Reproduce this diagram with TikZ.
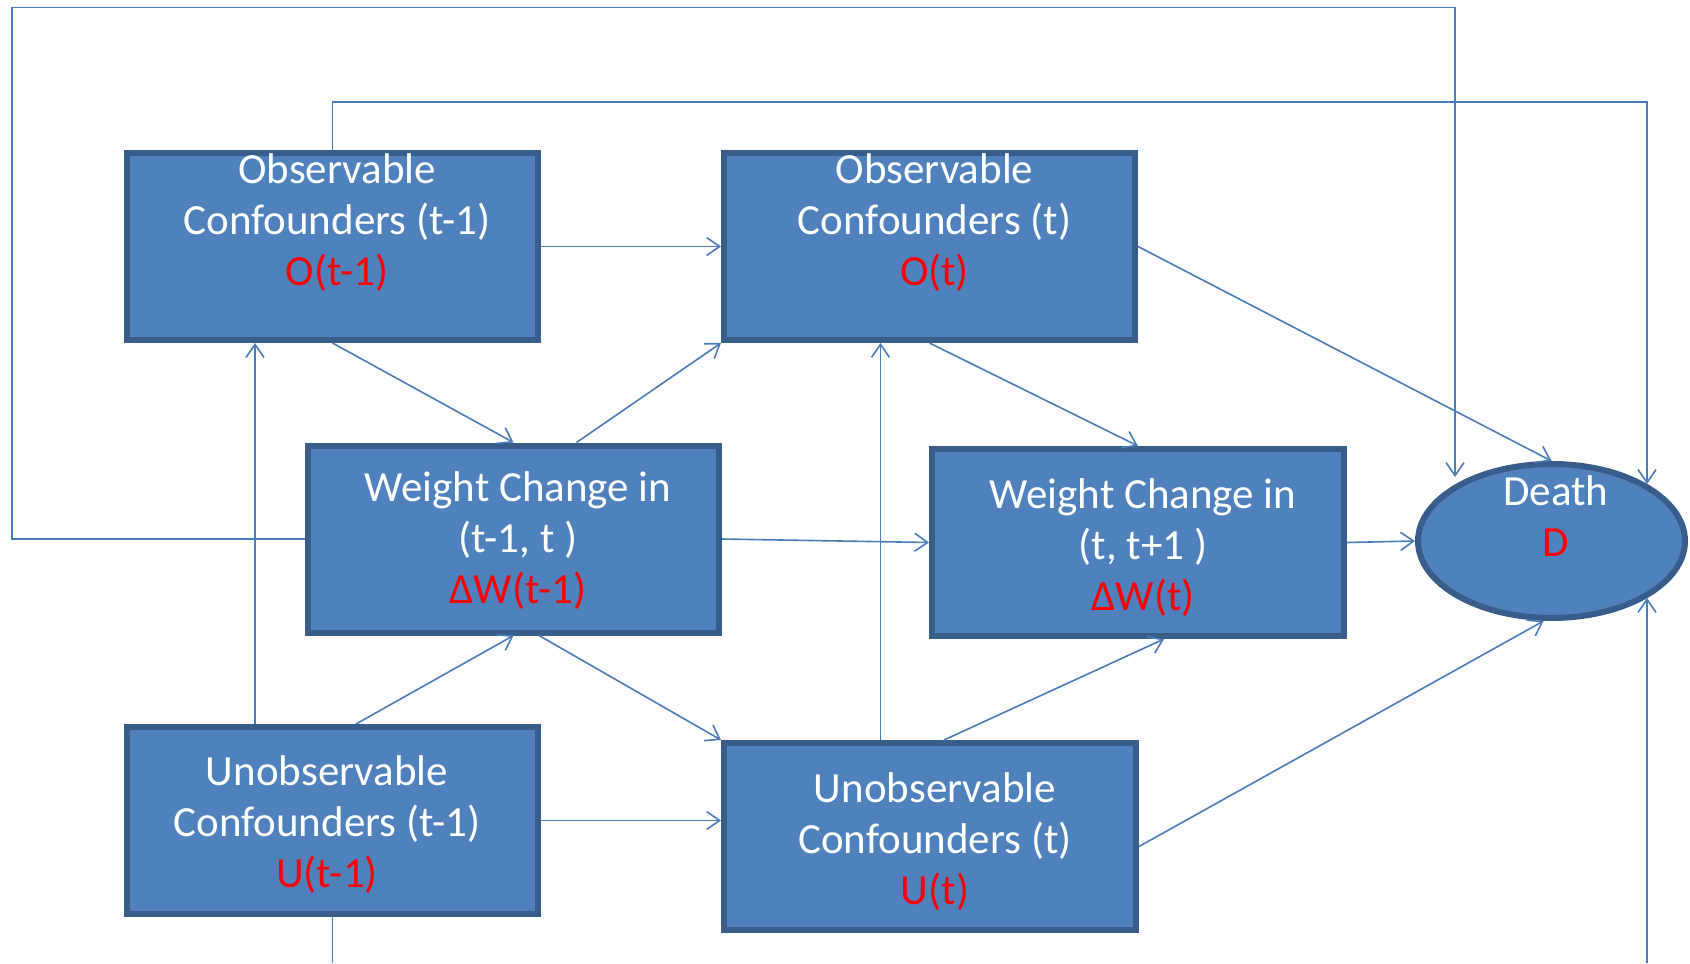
\documentclass[tikz,border=0pt]{standalone}
\usepackage{fontspec}
\setmainfont{Carlito}
\usetikzlibrary{arrows.meta,shapes.geometric,calc}
\definecolor{boxfill}{HTML}{4F81BD}
\definecolor{boxline}{HTML}{385D8A}
\definecolor{conn}{HTML}{4A7EBB}
\definecolor{lab}{HTML}{FF0000}
\tikzset{
  varbox/.style={draw=boxline, fill=boxfill, line width=3pt, rectangle, inner sep=0pt,
    minimum width=205.5pt, minimum height=93.5pt},
  deathnode/.style={draw=boxline, fill=boxfill, line width=3pt, ellipse, inner sep=0pt,
    minimum width=133.5pt, minimum height=77pt},
  boxtext/.style={text=white, align=center, font=\fontsize{21.5}{25.5}\selectfont, inner sep=0pt},
  arr/.style={draw=conn, line width=0.8pt, -{Straight Barb[length=6.5pt,width=9pt]}},
  ln/.style={draw=conn, line width=0.8pt},
}
\begin{document}
\begin{tikzpicture}[x=0.5pt,y=-0.5pt]
\useasboundingbox (0,0) rectangle (1690,963);
% boxes
\node[varbox] (O1) at (332.5,246.5) {};
\node[varbox] (O2) at (929.5,246.5) {};
\node[varbox] (W1) at (513.5,539) {};
\node[varbox, minimum width=206pt] (W2) at (1138,542.5) {};
\node[varbox] (U1) at (332.5,820.5) {};
\node[varbox, minimum width=206pt] (U2) at (930,836.5) {};
\node[deathnode] (D) at (1551.5,541) {};
% texts
\node[boxtext] (tO1) at (337,223) {Observable\\Confounders (t-1)\\\textcolor{lab}{O(t-1)}};
\node[boxtext] (tO2) at (934.5,223) {Observable\\Confounders (t)\\\textcolor{lab}{O(t)}};
\node[boxtext] (tW1) at (518,541) {Weight Change in\\(t-1, t )\\\textcolor{lab}{ΔW(t-1)}};
\node[boxtext] (tW2) at (1143,548) {Weight Change in\\(t, t+1 )\\\textcolor{lab}{ΔW(t)}};
\node[boxtext] (tU1) at (327,825) {Unobservable\\Confounders (t-1)\\\textcolor{lab}{U(t-1)}};
\node[boxtext] (tU2) at (935,842) {Unobservable\\Confounders (t)\\\textcolor{lab}{U(t)}};
\node[boxtext] (tD) at (1556,516) {Death\\\textcolor{lab}{D}};
% helper coordinates
\coordinate (L1) at (12,539);
\coordinate (L2) at (12,7.5);
\coordinate (L3) at (1455,7.5);
\coordinate (L4) at (1455,477);
\coordinate (R1) at (332.5,102);
\coordinate (R2) at (1647,102);
\coordinate (R3) at (1647,484);
\coordinate (B1) at (332.5,963);
\coordinate (B2) at (1647,963);
\coordinate (B3) at (1647,598);
% connectors
\draw[arr] (O1.east) -- (O2.west);
\draw[arr] (O1.south) -- (W1.north);
\draw[arr] ([xshift=31.5pt]W1.north) -- (O2.south west);
\draw[arr] ([xshift=-38.75pt]U1.north) -- ([xshift=-38.75pt]O1.south);
\draw[arr] ([xshift=11.75pt]U1.north) -- (W1.south);
\draw[arr] ([xshift=12.75pt]W1.south) -- (U2.north west);
\draw[arr] (U1.east) -- (U1.east -| U2.west);
\draw[arr] (W1.east) -- (W2.west);
\draw[arr] ([xshift=-24.75pt]U2.north) -- ([xshift=-24.5pt]O2.south);
\draw[arr] (O2.south) -- (W2.north);
\draw[arr] ([xshift=7pt]U2.north) -- ([xshift=13pt]W2.south);
\draw[arr] (O2.east) -- (D.north);
\draw[arr] (W2.east) -- (D.west);
\draw[arr] ([yshift=-5pt]U2.east) -- ([xshift=-4pt]D.south);
\draw[arr] (W1.west) -- (L1) -- (L2) -- (L3) -- (L4);
\draw[arr] (O1.north) -- (R1) -- (R2) -- (R3);
\draw[ln] (U1.south) -- (B1);
\draw[arr] (B2) -- (B3);
\end{tikzpicture}
\end{document}
